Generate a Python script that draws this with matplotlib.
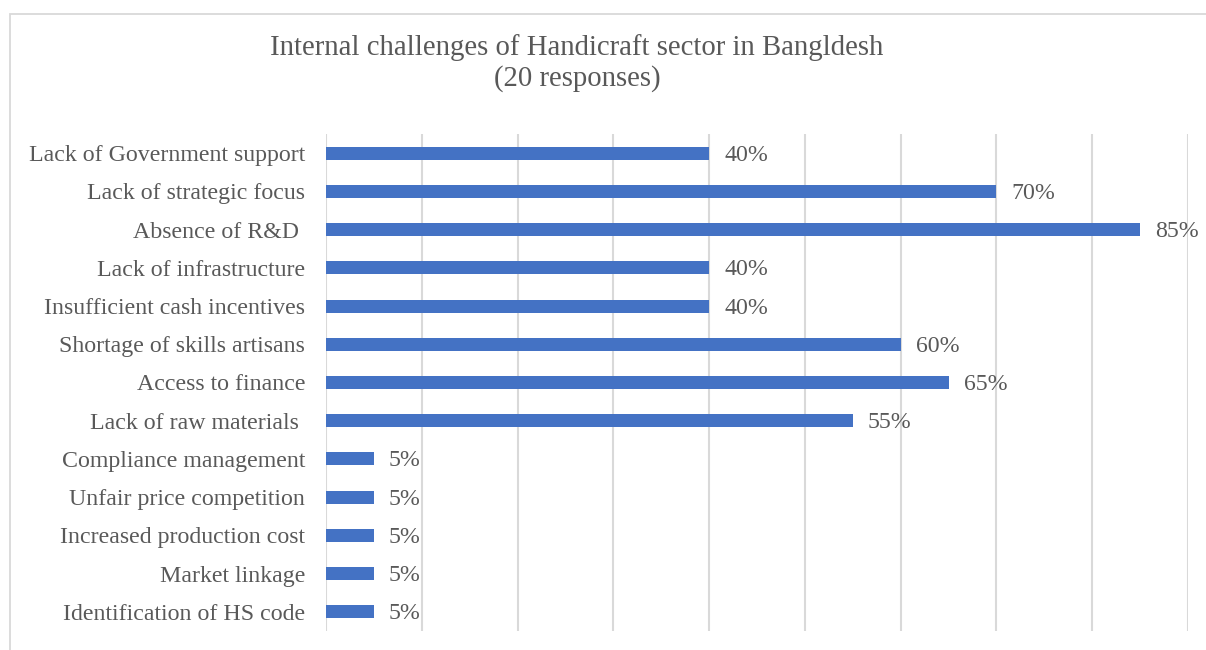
import matplotlib
matplotlib.use("Agg")
import matplotlib.pyplot as plt
from matplotlib.patches import Rectangle

categories = [
    "Lack of Government support",
    "Lack of strategic focus",
    "Absence of R&D ",
    "Lack of infrastructure",
    "Insufficient cash incentives",
    "Shortage of skills artisans",
    "Access to finance",
    "Lack of raw materials ",
    "Compliance management",
    "Unfair price competition",
    "Increased production cost",
    "Market linkage",
    "Identification of HS code",
]
values = [40, 70, 85, 40, 40, 60, 65, 55, 5, 5, 5, 5, 5]
x_ticks = [0, 10, 20, 30, 40, 50, 60, 70, 80, 90]

title = "Internal challenges of Handicraft sector in Bangldesh\n(20 responses)"

plt.rcParams["font.family"] = ["Liberation Serif", "DejaVu Serif"]
TEXT = "#595959"
BAR = "#4472C4"
GRID = "#D9D9D9"

fig = plt.figure(figsize=(12.06, 6.5), dpi=100)
W, H = 1206, 650

# chart frame
fig.patches.append(Rectangle((10 / W, -0.1), 1.2, (1 - 14 / H) + 0.1,
                             transform=fig.transFigure, fill=False,
                             edgecolor=GRID, linewidth=1.3))

ax = fig.add_axes([326 / W, 1 - 631 / H, (1188 - 326) / W, (631 - 134) / H])
ypos = list(range(len(categories)))
ax.barh(ypos, values, height=0.34, color=BAR, zorder=3)
ax.set_ylim(len(categories) - 0.5, -0.5)
ax.set_xlim(0, 90)
ax.set_xticks(x_ticks)
ax.set_xticklabels([])
ax.tick_params(axis="x", length=0)
ax.tick_params(axis="y", length=0, pad=15, labelsize=17.2, labelcolor=TEXT)
ax.set_yticks(ypos)
ax.set_yticklabels(categories)
ax.grid(axis="x", color=GRID, linewidth=1.5, zorder=0)
for s in ax.spines.values():
    s.set_visible(False)

for y, v in zip(ypos, values):
    ax.annotate(f"{v}%", xy=(v, y), xytext=(15, -2), textcoords="offset pixels",
                ha="left", va="center", fontsize=17.2, color=TEXT)

fig.text(577 / W, 1 - 63 / H, title, ha="center", va="center",
         fontsize=20.7, color=TEXT, linespacing=1.24)

fig.savefig("out.png", dpi=100)
